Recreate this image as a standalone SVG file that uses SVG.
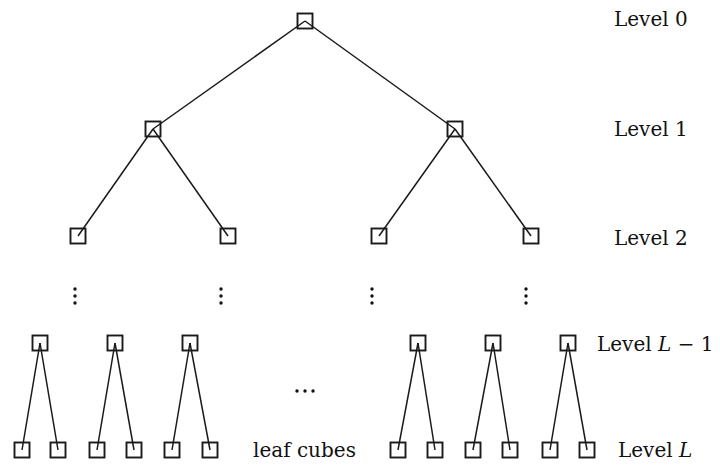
<svg xmlns="http://www.w3.org/2000/svg" width="720" height="469" viewBox="0 0 720 469">
  <style>
    .edge { stroke: #1a1a1a; stroke-width: 1.5; fill: none; }
    .cube { stroke: #1a1a1a; stroke-width: 1.9; fill: none; }
    .lbl { font-family: "DejaVu Serif", "Liberation Serif", serif; font-size: 20px; fill: #111; }
    .dot { fill: #111; }
  </style>
  <defs>
    <rect id="cube" x="-7.5" y="-7.5" width="15" height="15" class="cube"/>
  </defs>
  <rect width="720" height="469" fill="#fff"/>

  <!-- connectors: each runs from parent centre to child centre -->
  <g id="edges" class="edge">
    <line x1="305" y1="21" x2="153" y2="129"/>
    <line x1="305" y1="21" x2="455" y2="129"/>
    <line x1="153" y1="129" x2="78" y2="236"/>
    <line x1="153" y1="129" x2="228" y2="236"/>
    <line x1="455" y1="129" x2="379" y2="236"/>
    <line x1="455" y1="129" x2="531" y2="236"/>
    <line x1="40" y1="343" x2="22" y2="450"/>
    <line x1="40" y1="343" x2="58" y2="450"/>
    <line x1="115" y1="343" x2="97" y2="450"/>
    <line x1="115" y1="343" x2="134" y2="450"/>
    <line x1="190" y1="343" x2="172" y2="450"/>
    <line x1="190" y1="343" x2="210" y2="450"/>
    <line x1="418" y1="343" x2="398" y2="450"/>
    <line x1="418" y1="343" x2="435" y2="450"/>
    <line x1="493" y1="343" x2="473" y2="450"/>
    <line x1="493" y1="343" x2="510" y2="450"/>
    <line x1="568" y1="343" x2="550" y2="450"/>
    <line x1="568" y1="343" x2="587" y2="450"/>
  </g>

  <!-- level 0 -->
  <g id="n0"><use href="#cube" x="305" y="21"/></g>
  <!-- level 1 -->
  <g id="n1a"><use href="#cube" x="153" y="129"/></g>
  <g id="n1b"><use href="#cube" x="455" y="129"/></g>
  <!-- level 2 -->
  <g id="n2a"><use href="#cube" x="78" y="236"/></g>
  <g id="n2b"><use href="#cube" x="228" y="236"/></g>
  <g id="n2c"><use href="#cube" x="379" y="236"/></g>
  <g id="n2d"><use href="#cube" x="531" y="236"/></g>
  <!-- level L-1 -->
  <g id="p1"><use href="#cube" x="40" y="343"/></g>
  <g id="p2"><use href="#cube" x="115" y="343"/></g>
  <g id="p3"><use href="#cube" x="190" y="343"/></g>
  <g id="p4"><use href="#cube" x="418" y="343"/></g>
  <g id="p5"><use href="#cube" x="493" y="343"/></g>
  <g id="p6"><use href="#cube" x="568" y="343"/></g>
  <!-- level L (leaf cubes) -->
  <g id="l1"><use href="#cube" x="22" y="450"/></g>
  <g id="l2"><use href="#cube" x="58" y="450"/></g>
  <g id="l3"><use href="#cube" x="97" y="450"/></g>
  <g id="l4"><use href="#cube" x="134" y="450"/></g>
  <g id="l5"><use href="#cube" x="172" y="450"/></g>
  <g id="l6"><use href="#cube" x="210" y="450"/></g>
  <g id="l7"><use href="#cube" x="398" y="450"/></g>
  <g id="l8"><use href="#cube" x="435" y="450"/></g>
  <g id="l9"><use href="#cube" x="473" y="450"/></g>
  <g id="l10"><use href="#cube" x="510" y="450"/></g>
  <g id="l11"><use href="#cube" x="550" y="450"/></g>
  <g id="l12"><use href="#cube" x="587" y="450"/></g>

  <!-- vertical ellipses between level 2 and level L-1 -->
  <g id="vdots" class="dot">
    <circle cx="75" cy="289" r="1.7"/><circle cx="75" cy="296" r="1.7"/><circle cx="75" cy="303" r="1.7"/>
    <circle cx="221" cy="289" r="1.7"/><circle cx="221" cy="296" r="1.7"/><circle cx="221" cy="303" r="1.7"/>
    <circle cx="372" cy="289" r="1.7"/><circle cx="372" cy="296" r="1.7"/><circle cx="372" cy="303" r="1.7"/>
    <circle cx="526" cy="289" r="1.7"/><circle cx="526" cy="296" r="1.7"/><circle cx="526" cy="303" r="1.7"/>
  </g>
  <!-- horizontal ellipsis between subtrees -->
  <g id="hdots" class="dot">
    <circle cx="297" cy="391" r="1.7"/><circle cx="305" cy="391" r="1.7"/><circle cx="313" cy="391" r="1.7"/>
  </g>

  <!-- level labels -->
  <g id="labels" class="lbl">
    <text x="614" y="26">Level 0</text>
    <text x="614" y="136">Level 1</text>
    <text x="614" y="245">Level 2</text>
    <text x="597" y="351">Level <tspan font-style="italic">L</tspan> − 1</text>
    <text x="253" y="457">leaf cubes</text>
    <text x="618" y="457">Level <tspan font-style="italic">L</tspan></text>
  </g>
</svg>
